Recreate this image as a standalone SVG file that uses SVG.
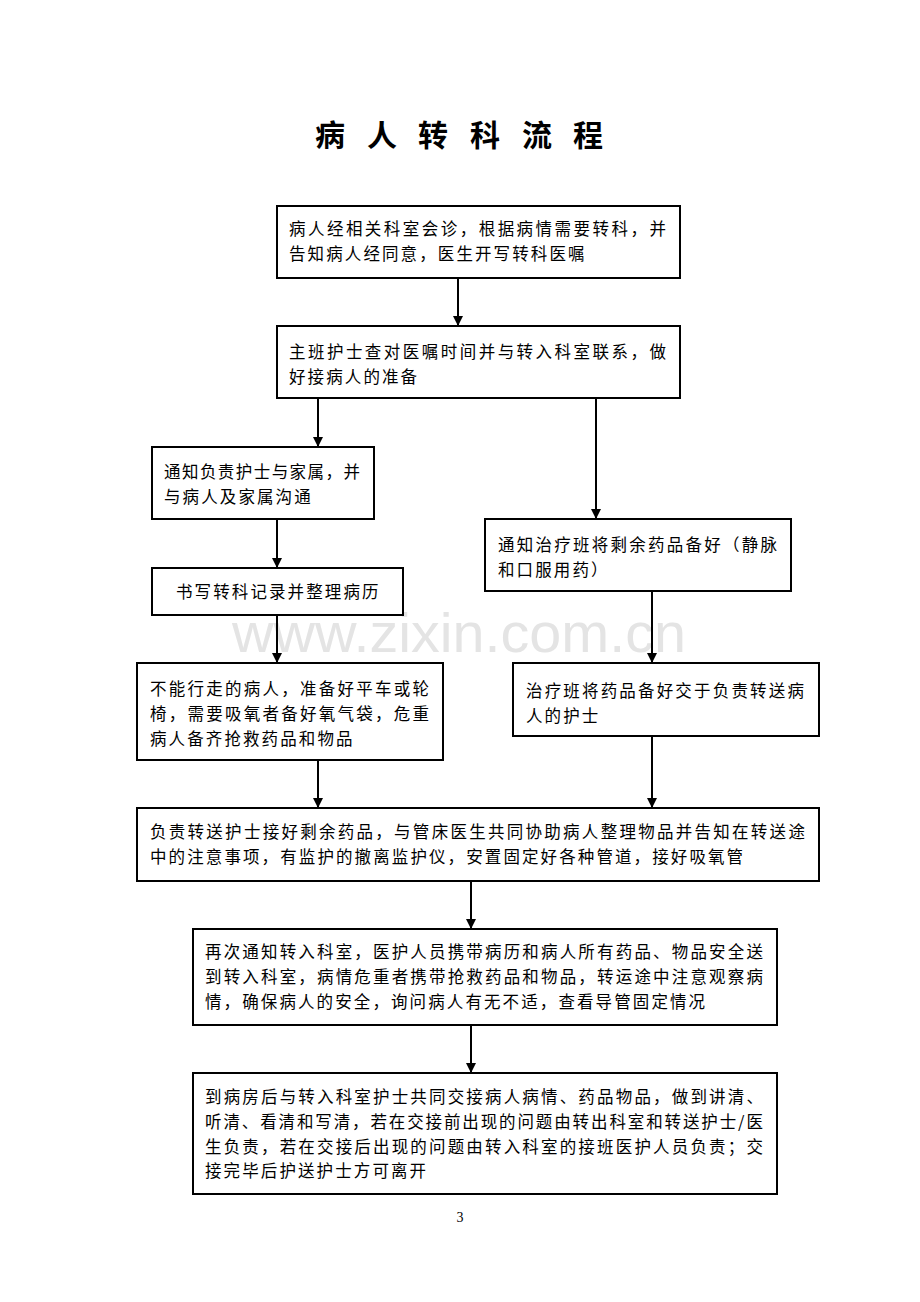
<svg xmlns="http://www.w3.org/2000/svg" width="920" height="1302" viewBox="0 0 920 1302">
<style>
.box{fill:#fff;stroke:#000;stroke-width:2}
.t{font-family:"Noto Sans CJK SC","Noto Sans",sans-serif;font-size:16.5px;letter-spacing:2.1px;fill:#000}
.title{font-family:"Noto Sans CJK SC",sans-serif;font-size:30px;font-weight:bold;fill:#000}
.c{stroke:#000;stroke-width:2;fill:none}
</style>
<defs>
<marker id="ah" markerUnits="userSpaceOnUse" markerWidth="10" markerHeight="12" refX="10" refY="5" orient="auto" viewBox="0 0 10 10">
<path d="M0,0 L10,5 L0,10 z" fill="#000"/>
</marker>
</defs>
<rect width="920" height="1302" fill="#fff"/>
<text class="title" x="330 382 433 485 537 588" y="146" text-anchor="middle">病人转科流程</text>
<text x="459" y="652" text-anchor="middle" font-family="Liberation Sans, Arial, sans-serif" font-size="56" fill="#e4e4e4" textLength="454" lengthAdjust="spacingAndGlyphs">www.zixin.com.cn</text>
<g id="connectors">
<line class="c" x1="458" y1="278" x2="458" y2="326" marker-end="url(#ah)"/>
<line class="c" x1="318" y1="398" x2="318" y2="447" marker-end="url(#ah)"/>
<line class="c" x1="596" y1="398" x2="596" y2="519" marker-end="url(#ah)"/>
<line class="c" x1="277" y1="519" x2="277" y2="568" marker-end="url(#ah)"/>
<line class="c" x1="277" y1="615" x2="277" y2="663" marker-end="url(#ah)"/>
<line class="c" x1="652" y1="591" x2="652" y2="663" marker-end="url(#ah)"/>
<line class="c" x1="318" y1="760" x2="318" y2="808" marker-end="url(#ah)"/>
<line class="c" x1="652" y1="736" x2="652" y2="808" marker-end="url(#ah)"/>
<line class="c" x1="471" y1="881" x2="471" y2="929" marker-end="url(#ah)"/>
<line class="c" x1="471" y1="1025" x2="471" y2="1073" marker-end="url(#ah)"/>
</g>
<g id="n1"><rect class="box" x="277" y="206" width="403" height="72"/>
<text class="t" x="289" y="235" textLength="379" lengthAdjust="spacing">病人经相关科室会诊，根据病情需要转科，并</text>
<text class="t" x="289" y="260">告知病人经同意，医生开写转科医嘱</text></g>
<g id="n2"><rect class="box" x="277" y="326" width="403" height="72"/>
<text class="t" x="289" y="358" textLength="379" lengthAdjust="spacing">主班护士查对医嘱时间并与转入科室联系，做</text>
<text class="t" x="289" y="383">好接病人的准备</text></g>
<g id="n3"><rect class="box" x="152" y="447" width="222" height="72"/>
<text class="t" x="164" y="478" textLength="198" lengthAdjust="spacing">通知负责护士与家属，并</text>
<text class="t" x="164" y="503">与病人及家属沟通</text></g>
<g id="n4"><rect class="box" x="152" y="568" width="251" height="47"/>
<text class="t" x="176" y="598">书写转科记录并整理病历</text></g>
<g id="n5"><rect class="box" x="485" y="519" width="306" height="72"/>
<text class="t" x="498" y="551" textLength="281" lengthAdjust="spacing">通知治疗班将剩余药品备好（静脉</text>
<text class="t" x="498" y="576">和口服用药）</text></g>
<g id="n6"><rect class="box" x="137" y="663" width="306" height="97"/>
<text class="t" x="150" y="695" textLength="281" lengthAdjust="spacing">不能行走的病人，准备好平车或轮</text>
<text class="t" x="150" y="720" textLength="281" lengthAdjust="spacing">椅，需要吸氧者备好氧气袋，危重</text>
<text class="t" x="150" y="745">病人备齐抢救药品和物品</text></g>
<g id="n7"><rect class="box" x="513" y="663" width="306" height="73"/>
<text class="t" x="526" y="697" textLength="280" lengthAdjust="spacing">治疗班将药品备好交于负责转送病</text>
<text class="t" x="526" y="722">人的护士</text></g>
<g id="n8"><rect class="box" x="137" y="808" width="682" height="73"/>
<text class="t" x="150" y="838" textLength="657" lengthAdjust="spacing">负责转送护士接好剩余药品，与管床医生共同协助病人整理物品并告知在转送途</text>
<text class="t" x="150" y="863">中的注意事项，有监护的撤离监护仪，安置固定好各种管道，接好吸氧管</text></g>
<g id="n9"><rect class="box" x="193" y="929" width="584" height="96"/>
<text class="t" x="205" y="958" textLength="560" lengthAdjust="spacing">再次通知转入科室，医护人员携带病历和病人所有药品、物品安全送</text>
<text class="t" x="205" y="983" textLength="560" lengthAdjust="spacing">到转入科室，病情危重者携带抢救药品和物品，转运途中注意观察病</text>
<text class="t" x="205" y="1008">情，确保病人的安全，询问病人有无不适，查看导管固定情况</text></g>
<g id="n10"><rect class="box" x="193" y="1073" width="584" height="121"/>
<text class="t" x="205" y="1103" textLength="560" lengthAdjust="spacing">到病房后与转入科室护士共同交接病人病情、药品物品，做到讲清、</text>
<text class="t" x="205" y="1128" textLength="560" lengthAdjust="spacing">听清、看清和写清，若在交接前出现的问题由转出科室和转送护士/医</text>
<text class="t" x="205" y="1153" textLength="560" lengthAdjust="spacing">生负责，若在交接后出现的问题由转入科室的接班医护人员负责；交</text>
<text class="t" x="205" y="1177">接完毕后护送护士方可离开</text></g>
<text x="460" y="1222" text-anchor="middle" font-family="Liberation Serif, serif" font-size="14" fill="#000">3</text>
</svg>
